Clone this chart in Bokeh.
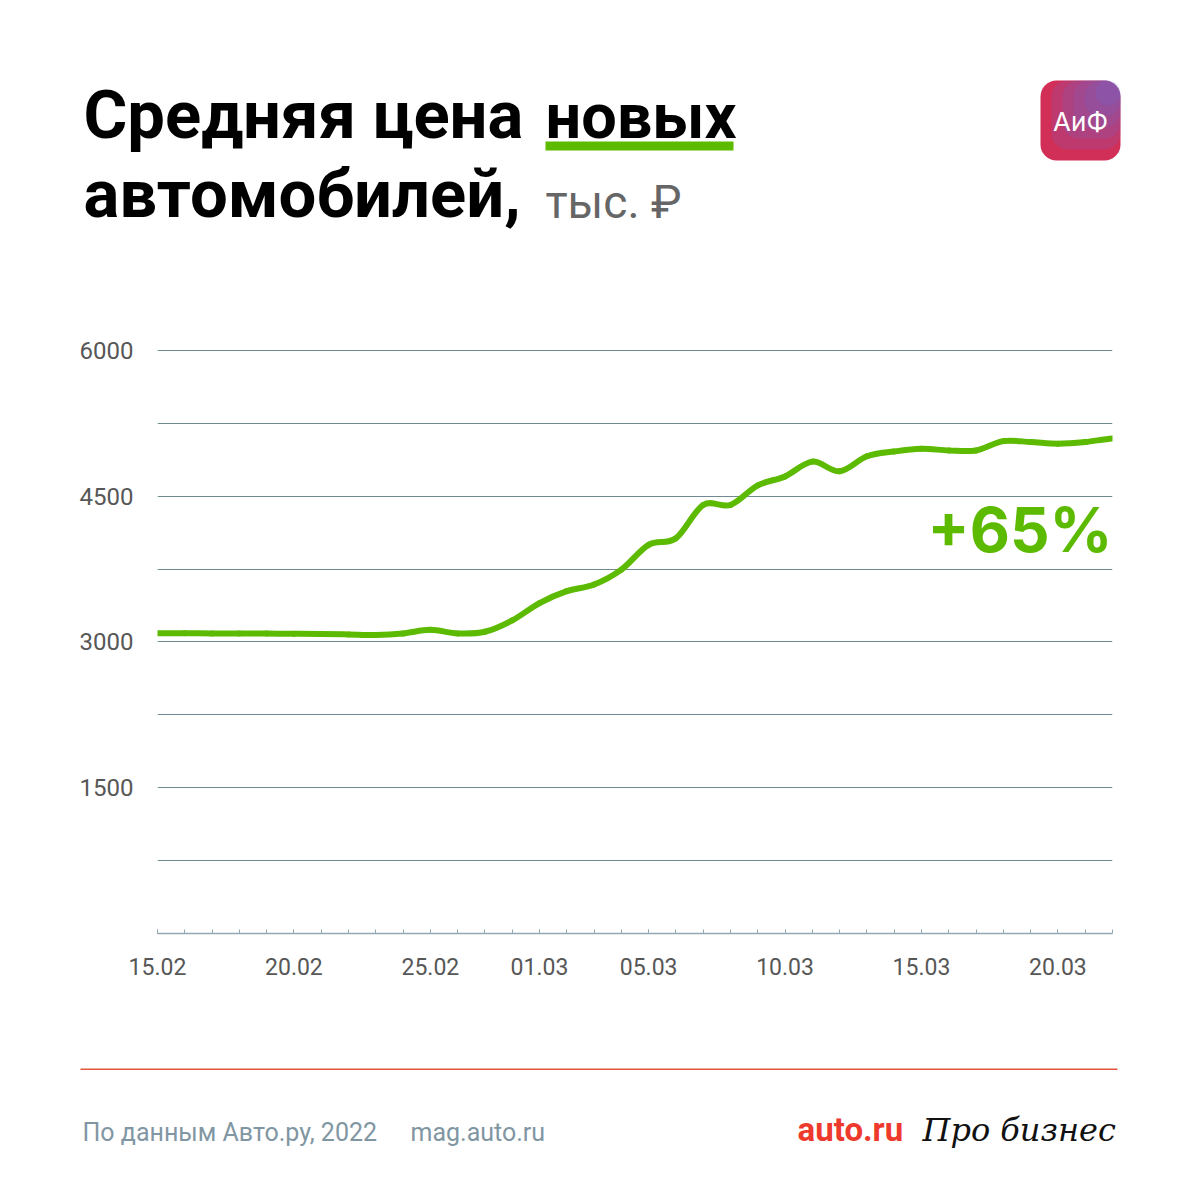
from bokeh.plotting import figure
from bokeh.layouts import column
from bokeh.models import Range1d, FixedTicker, Label, BoxAnnotation
from bokeh.embed import file_html
from bokeh.resources import INLINE

# ---- data ----
dates = ["15.02", "16.02", "17.02", "18.02", "19.02", "20.02", "21.02", "22.02", "23.02",
         "24.02", "25.02", "26.02", "27.02", "28.02", "01.03", "02.03", "03.03", "04.03",
         "05.03", "06.03", "07.03", "08.03", "09.03", "10.03", "11.03", "12.03", "13.03",
         "14.03", "15.03", "16.03", "17.03", "18.03", "19.03", "20.03", "21.03", "22.03"]
prices = [3090, 3089, 3088, 3087, 3086, 3085, 3083, 3078, 3072, 3088, 3125, 3088, 3105,
          3222, 3400, 3523, 3591, 3745, 4000, 4067, 4410, 4410, 4611, 4704, 4856, 4756,
          4911, 4960, 4988, 4971, 4971, 5067, 5057, 5040, 5057, 5094]
x_tick_labels = ["15.02", "20.02", "25.02", "01.03", "05.03", "10.03", "15.03", "20.03"]
y_ticks = [1500, 3000, 4500, 6000]
y_grid = [750, 1500, 2250, 3000, 3750, 4500, 5250, 6000]
growth_label = "+65%"

GREEN = "#5cba00"
GRID = "#6f8b91"
AXIS = "#93a8b1"
TICK_TXT = "#575757"
FOOT = "#8196a3"

W = 1184
H_TOP, H_CHART, H_FOOT = 300, 720, 164
BASE_SHIFT = 0.36  # svg text baseline correction (fraction of font size)


def blank(h):
    f = figure(width=W, height=h, output_backend="svg", toolbar_location=None,
               x_range=Range1d(0, W), y_range=Range1d(h, 0),
               x_axis_location=None, y_axis_location=None, min_border=0,
               frame_align=False)
    f.grid.visible = False
    f.outline_line_color = None
    f.background_fill_color = "white"
    f.border_fill_color = "white"
    return f


def lab(f, text, x, y, size, color, style="normal", font="Roboto", align="left"):
    f.add_layout(Label(x=x, y=y - BASE_SHIFT * size, text=text, text_font=font,
                       text_font_size=f"{size}px", text_color=color,
                       text_font_style=style, text_align=align,
                       text_baseline="alphabetic"))


# ---------- header ----------
top = blank(H_TOP)
lab(top, "Средняя цена", 83, 139, 67, "#000000", "bold")
lab(top, "новых", 545, 139, 63, "#000000", "bold")
lab(top, "автомобилей,", 83, 218, 67, "#000000", "bold")
lab(top, "тыс. ₽", 545, 218, 46, "#666666")
top.add_layout(BoxAnnotation(left=545, right=733, top=141, bottom=150,
                             fill_color=GREEN, fill_alpha=1, line_color=None))
# logo: rounded square with a crimson -> blue tint toward the top-right
top.add_layout(BoxAnnotation(left=1040, right=1120, top=80, bottom=160,
                             fill_color="#d12f57", fill_alpha=1, line_color=None,
                             border_radius=16))
for k in range(1, 6):
    top.add_layout(BoxAnnotation(left=1040 + 11 * k, right=1120, top=80, bottom=160 - 11 * k,
                                 fill_color="#5f6fe2", fill_alpha=0.16, line_color=None,
                                 border_radius=16))
lab(top, "АиФ", 1080, 130, 26, "white", "normal", font="Inter", align="center")

# ---------- chart ----------
y_top_val = 6020
p = figure(width=W, height=H_CHART, output_backend="svg", toolbar_location=None,
           x_range=Range1d(0, len(dates) - 1), y_range=Range1d(0, y_top_val),
           min_border_left=157, min_border_right=W - 1112, min_border_top=48,
           min_border_bottom=H_CHART - (933 - H_TOP), frame_align=False)
p.outline_line_color = None
p.background_fill_color = "white"
p.border_fill_color = "white"

xs = list(range(len(dates)))

p.xgrid.grid_line_color = None
p.ygrid.ticker = FixedTicker(ticks=y_grid)
p.ygrid.grid_line_color = GRID
p.ygrid.grid_line_width = 1

ax = p.xaxis[0]
ax.ticker = FixedTicker(ticks=[dates.index(d) for d in x_tick_labels], minor_ticks=xs)
ax.major_label_overrides = {dates.index(d): d for d in x_tick_labels}
ax.axis_line_color = AXIS
ax.axis_line_width = 1.5
ax.major_tick_line_color = AXIS
ax.minor_tick_line_color = AXIS
ax.major_tick_in = 4
ax.major_tick_out = 0
ax.minor_tick_in = 4
ax.minor_tick_out = 0
ax.major_label_standoff = 24
ax.major_label_text_font = "Roboto"
ax.major_label_text_font_size = "23px"
ax.major_label_text_color = TICK_TXT

ay = p.yaxis[0]
ay.ticker = FixedTicker(ticks=y_ticks)
ay.axis_line_color = None
ay.major_tick_line_color = None
ay.minor_tick_line_color = None
ay.major_label_standoff = 18
ay.major_label_text_font = "Roboto"
ay.major_label_text_font_size = "24px"
ay.major_label_text_color = TICK_TXT

# smooth curve through the daily values (Catmull-Rom as cubic Bezier segments)
n = len(prices)
x0, y0, x1, y1, cx0, cy0, cx1, cy1 = [], [], [], [], [], [], [], []
for i in range(n - 1):
    pm = prices[max(i - 1, 0)]
    pn = prices[min(i + 2, n - 1)]
    x0.append(xs[i]); y0.append(prices[i])
    x1.append(xs[i + 1]); y1.append(prices[i + 1])
    cx0.append(xs[i] + 1 / 3); cy0.append(prices[i] + (prices[i + 1] - pm) / 6)
    cx1.append(xs[i + 1] - 1 / 3); cy1.append(prices[i + 1] - (pn - prices[i]) / 6)
p.bezier(x0=x0, y0=y0, x1=x1, y1=y1, cx0=cx0, cy0=cy0, cx1=cx1, cy1=cy1,
         line_color=GREEN, line_width=6, line_cap="round")

# growth label: baseline at page y=551 (converted to data units)
gsize = 62
g_base_px = 551 - H_TOP - 48 - gsize * BASE_SHIFT
frame_h = H_CHART - 48 - (H_CHART - (933 - H_TOP))
g_y = y_top_val * (1 - g_base_px / frame_h)
p.add_layout(Label(x=len(dates) - 1, y=g_y, text=growth_label, text_font="Inter",
                   text_font_size=f"{gsize}px", text_font_style="bold", text_color=GREEN,
                   text_align="right", text_baseline="alphabetic"))

# ---------- footer ----------
bot = blank(H_FOOT)
base = H_TOP + H_CHART
bot.add_layout(BoxAnnotation(left=80, right=1117, top=1068 - base, bottom=1069.5 - base,
                             fill_color="#e2553f", fill_alpha=1, line_color=None))
lab(bot, "По данным Авто.ру, 2022", 82, 1141 - base, 25, FOOT)
lab(bot, "mag.auto.ru", 410, 1141 - base, 25, FOOT)
lab(bot, "auto.ru", 797, 1141 - base, 33, "#ee3a2c", "bold")
lab(bot, "Про бизнес", 922, 1141 - base, 32, "#111111", "italic", font="DejaVu Serif")

layout = column(top, p, bot, spacing=0)
open("out.html", "w").write(file_html(layout, INLINE))
